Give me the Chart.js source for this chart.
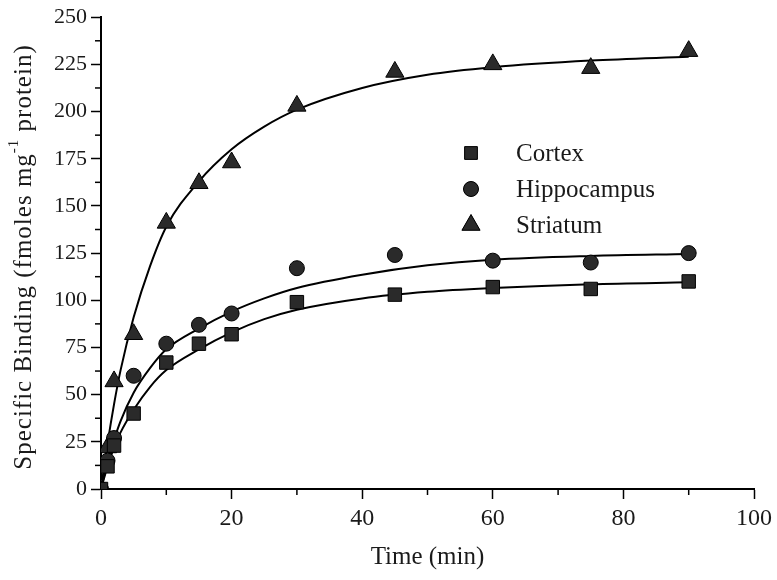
<!DOCTYPE html>
<html>
<head>
<meta charset="utf-8">
<script src="https://cdn.jsdelivr.net/npm/chart.js@4/dist/chart.umd.min.js"></script>
<style>
  html, body { margin:0; padding:0; background:#fff; }
  #wrap { width:777px; height:580px; }
</style>
</head>
<body>
<div id="wrap"><canvas id="chart" width="777" height="580"></canvas></div>
<script>
// measured points
const times = [0, 1, 2, 5, 10, 15, 20, 30, 45, 60, 75, 90];
const cortex = [0, 12, 23, 40, 67, 77, 82, 99, 103, 107, 106, 110];
const hippocampus = [0, 15, 27, 60, 77, 87, 93, 117, 124, 121, 120, 125];
const striatum = [0, 22, 57, 82, 141, 162, 173, 203, 221, 225, 223, 232];

// fitted curves
const fitTimes = [0, 1, 2, 3, 5, 7.5, 10, 15, 20, 25, 30, 40, 50, 60, 75, 90];
const cortexFit = [0, 12, 22, 30, 42, 54, 63, 74, 83, 90, 95, 101, 104.5, 106.5, 108.5, 109.5];
const hippocampusFit = [0, 14, 26, 36, 51, 64, 74, 85, 94, 101, 106.5, 113.5, 118.5, 121.5, 123.5, 124.5];
const striatumFit = [0, 24, 45, 63, 91, 118, 139, 163, 180, 192, 201, 212.5, 219.5, 223.5, 227, 229];

const xTicks = [0, 20, 40, 60, 80, 100];
const yTicks = [0, 25, 50, 75, 100, 125, 150, 175, 200, 225, 250];

const FONT = "'Liberation Serif', 'Times New Roman', serif";
const INK = '#1a1a1a';

function pts(xs, ys) {
  return xs.map((x, i) => ({ x, y: ys[i] }));
}

function curve(ys) {
  return {
    data: pts(fitTimes, ys), showLine: true, pointRadius: 0,
    borderColor: '#000', borderWidth: 2, cubicInterpolationMode: 'monotone',
    fill: false, order: 2
  };
}

function markers(label, ys, style, radius) {
  return {
    label, data: pts(times, ys), showLine: false, pointStyle: style,
    pointRadius: radius, pointBackgroundColor: '#2a2a2a',
    pointBorderColor: '#000', pointBorderWidth: 1, order: 1
  };
}

const legendItems = [
  { label: 'Cortex', style: 'rect', r: 9 },
  { label: 'Hippocampus', style: 'circle', r: 7.5 },
  { label: 'Striatum', style: 'triangle', r: 10.5 }
];

const extras = {
  id: 'extras',
  afterDraw(chart) {
    const ctx = chart.ctx;
    const xs = chart.scales.x, ys = chart.scales.y;
    const area = chart.chartArea;
    ctx.save();
    ctx.strokeStyle = '#000';
    ctx.lineWidth = 1.5;
    // minor ticks
    for (let v = 12.5; v < 250; v += 25) {
      const p = ys.getPixelForValue(v);
      ctx.beginPath(); ctx.moveTo(area.left, p); ctx.lineTo(area.left - 6, p); ctx.stroke();
    }
    for (let v = 10; v < 100; v += 20) {
      const p = xs.getPixelForValue(v);
      ctx.beginPath(); ctx.moveTo(p, area.bottom); ctx.lineTo(p, area.bottom + 6); ctx.stroke();
    }

    // legend
    ctx.font = '25px ' + FONT;
    ctx.textBaseline = 'middle';
    ctx.textAlign = 'left';
    legendItems.forEach((it, i) => {
      const y = 153 + i * 36;
      ctx.fillStyle = '#2a2a2a';
      ctx.strokeStyle = '#000';
      ctx.lineWidth = 1;
      Chart.helpers.drawPoint(ctx, { pointStyle: it.style, radius: it.r, rotation: 0 }, 471, y);
      ctx.fill(); ctx.stroke();
      ctx.fillStyle = INK;
      ctx.fillText(it.label, 516, y + 1);
    });

    // axis titles
    ctx.textAlign = 'center';
    ctx.fillText('Time (min)', (area.left + area.right) / 2, 557);

    ctx.save();
    ctx.translate(24, 257);
    ctx.rotate(-Math.PI / 2);
    ctx.letterSpacing = '1px';
    const a = 'Specific Binding (fmoles mg', sup = '-1', b = ' protein)';
    ctx.font = '25px ' + FONT;
    const wa = ctx.measureText(a).width, wb = ctx.measureText(b).width;
    ctx.font = '15px ' + FONT;
    const ws = ctx.measureText(sup).width;
    let x = -(wa + ws + wb) / 2;
    ctx.textAlign = 'left';
    ctx.font = '25px ' + FONT;
    ctx.fillText(a, x, 0); x += wa;
    ctx.font = '15px ' + FONT;
    ctx.fillText(sup, x, -10); x += ws;
    ctx.font = '25px ' + FONT;
    ctx.fillText(b, x, 0);
    ctx.restore();
    ctx.restore();
  }
};

new Chart(document.getElementById('chart'), {
  type: 'scatter',
  data: {
    datasets: [
      curve(cortexFit), curve(hippocampusFit), curve(striatumFit),
      markers('Cortex', cortex, 'rect', 9.5),
      markers('Hippocampus', hippocampus, 'circle', 7.5),
      markers('Striatum', striatum, 'triangle', 10.5)
    ]
  },
  options: {
    responsive: false,
    animation: false,
    layout: { padding: { left: 0, right: 23, top: 17, bottom: 0 } },
    plugins: { legend: { display: false }, tooltip: { enabled: false } },
    scales: {
      x: {
        type: 'linear', min: 0, max: 100,
        afterBuildTicks: s => { s.ticks = xTicks.map(v => ({ value: v })); },
        afterFit: s => { s.height = 91; },
        ticks: { color: INK, font: { family: FONT, size: 24 }, padding: 5, maxRotation: 0 },
        grid: { drawOnChartArea: false, tickLength: 10, tickColor: '#000', tickWidth: 1.5 },
        border: { color: '#000', width: 2 }
      },
      y: {
        type: 'linear', min: 0, max: 250,
        afterBuildTicks: s => { s.ticks = yTicks.map(v => ({ value: v })); },
        afterFit: s => { s.width = 101; },
        ticks: { color: INK, font: { family: FONT, size: 22 }, padding: 4 },
        grid: { drawOnChartArea: false, tickLength: 10, tickColor: '#000', tickWidth: 1.5 },
        border: { color: '#000', width: 2 }
      }
    }
  },
  plugins: [extras]
});
</script>
</body>
</html>
